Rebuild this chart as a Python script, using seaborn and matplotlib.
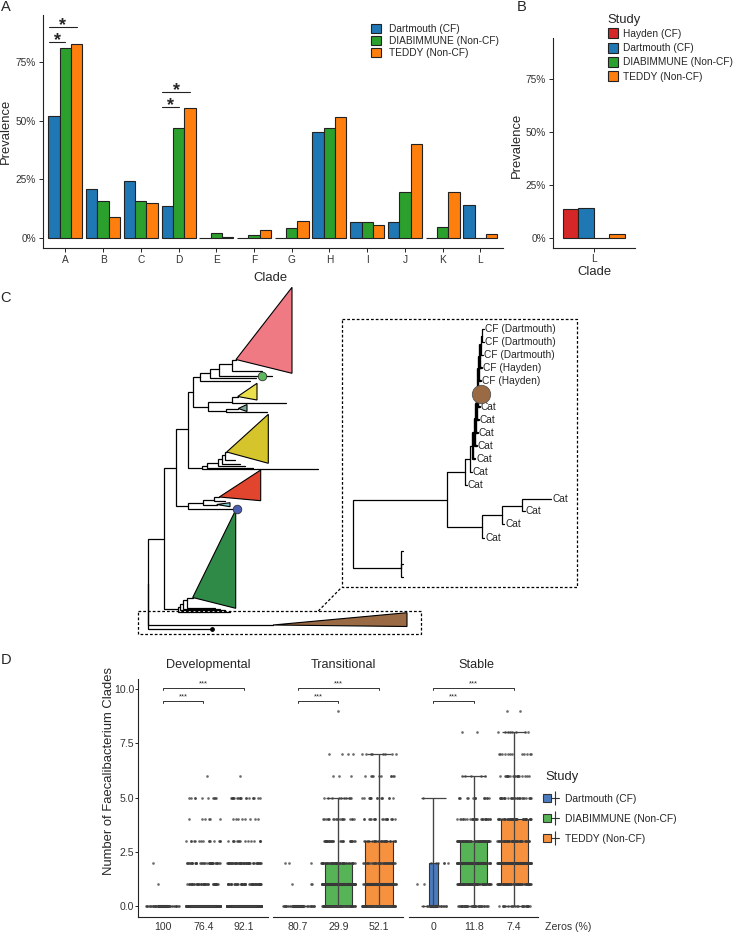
import numpy as np
import pandas as pd
import matplotlib
matplotlib.use("Agg")
import matplotlib.pyplot as plt
import seaborn as sns
from matplotlib import cbook
from matplotlib.patches import Patch
from matplotlib.lines import Line2D
from matplotlib.legend_handler import HandlerTuple

W, H = 735, 933

# ---------------- data: panel A ----------------
clades = list("ABCDEFGHIJKL")
a_studies = ["Dartmouth (CF)", "DIABIMMUNE (Non-CF)", "TEDDY (Non-CF)"]
dartmouth_prev = [51.8, 20.8, 24.2, 13.7, 0, 0, 0, 45.0, 6.8, 6.9, 0, 14.0]
diabimmune_prev = [80.7, 16.0, 15.7, 46.7, 2.1, 1.3, 4.5, 46.8, 6.8, 19.5, 4.7, 0]
teddy_prev = [82.6, 8.9, 15.0, 55.2, 0.6, 3.5, 7.5, 51.6, 5.8, 39.9, 19.5, 1.8]
# (clade index, compared study index, bracket height)
sig_a = [(0, 1, 83.2), (0, 2, 89.7), (3, 1, 55.6), (3, 2, 62.1)]

# ---------------- data: panel B ----------------
b_studies = ["Hayden (CF)", "Dartmouth (CF)", "DIABIMMUNE (Non-CF)", "TEDDY (Non-CF)"]
b_prev = [13.6, 14.1, 0, 1.7]

# ---------------- data: panel C (tree drawn in pixel-like units) ----------------
# elbow branches: parent x, parent y, child x, child y
main_elbows = [
    (148.3, 584, 163.7, 539), (148.3, 584, 273, 625), (148.3, 584, 211.7, 629),
    (163.7, 539, 175.7, 468.3), (163.7, 539, 177.7, 609.3),
    (175.7, 468.3, 187.7, 429), (175.7, 468.3, 187.7, 505.7),
    (187.7, 429, 193.3, 391.7), (187.7, 429, 201.7, 468.3),
    (193.3, 391.7, 200, 377), (193.3, 391.7, 208.3, 406.7),
    (200, 377, 250, 381), (200, 377, 210, 373),
    (210, 373, 256, 378), (210, 373, 219, 369),
    (219, 369, 272, 376), (219, 369, 231.7, 364),
    (231.7, 364, 236, 359.5), (231.7, 364, 262, 371),
    (208.3, 406.7, 231.7, 401.7), (208.3, 406.7, 226, 411),
    (231.7, 401.7, 285.7, 402.5), (231.7, 401.7, 237.7, 396.5),
    (226, 411, 266.7, 411.7), (226, 411, 238.3, 408.5),
    (201.7, 468.3, 318.3, 469.3), (201.7, 468.3, 206.7, 466),
    (206.7, 466, 253, 468), (206.7, 466, 218.3, 463),
    (218.3, 463, 245, 466), (218.3, 463, 221.7, 459),
    (221.7, 459, 240, 464), (221.7, 459, 225, 455),
    (225, 455, 226.7, 452), (225, 455, 235, 460),
    (187.7, 505.7, 203.3, 502.7), (187.7, 505.7, 233.3, 508.8),
    (203.3, 502.7, 214, 499.5), (203.3, 502.7, 216.7, 504.5),
    (214, 499.5, 219.3, 497), (214, 499.5, 225, 501),
    (177.7, 609.3, 230, 611.7), (177.7, 609.3, 180, 606.5),
    (180, 606.5, 225, 610), (180, 606.5, 182.7, 603.5),
    (182.7, 603.5, 220, 609), (182.7, 603.5, 186.7, 600),
    (186.7, 600, 192.7, 597.5), (186.7, 600, 215, 608),
]
# collapsed clades: apex, top corner, bottom corner
clade_triangles = [
    [(236, 359.5), (292, 287.3), (292, 373.3)],
    [(237.7, 396.5), (257, 383.3), (257, 400)],
    [(238.3, 408.5), (247, 404.5), (247, 411.5)],
    [(226.7, 452), (268.3, 414.3), (268.3, 463.3)],
    [(219.3, 497), (260.7, 470), (260.7, 500.7)],
    [(216.7, 504.5), (230, 502.7), (230, 506.7)],
    [(192.7, 597.5), (235.7, 510), (235.7, 608.3)],
    [(273, 625), (407, 612.7), (407, 626.5)],
]
clade_colors = ["#f07a84", "#ebe04c", "#7fa79a", "#d6c42c", "#e2452d", "#7ccaca", "#2f8a48", "#9a6a44"]
node_dots = [(261.7, 376, "#5cb85c"), (236.7, 509, "#4a5fb0")]

inset_elbows = [
    (353.3, 534, 447.3, 500), (353.3, 534, 401, 567.7),
    (401, 567.7, 403, 551), (401, 567.7, 403, 564), (401, 567.7, 403, 577.3),
    (447.3, 500, 481.7, 526.7),
    (481.7, 526.7, 484, 537.7), (481.7, 526.7, 501.7, 515),
    (501.7, 515, 504, 524.3), (501.7, 515, 522.3, 505.7),
    (522.3, 505.7, 524.5, 511), (522.3, 505.7, 550.7, 498.7),
]
lower_tip_labels = [(486, 537.7), (506, 524.3), (526, 511), (552.5, 498.7)]
spine_tips_y = [485, 472.3, 459.3, 446.3, 433.3, 420.3, 407.3, 381, 368.3, 355, 342.3, 329]
spine_tips_lab = ["Cat"] * 7 + ["CF (Hayden)"] * 2 + ["CF (Dartmouth)"] * 3
spine_x = [465, 469.7, 473.3, 474.5, 475.5, 476.5, 477.5, 478.5, 479.7, 481, 481.7]

# ---------------- data: panel D ----------------
phases = ["Developmental", "Transitional", "Stable"]
d_studies = ["Dartmouth (CF)", "DIABIMMUNE (Non-CF)", "TEDDY (Non-CF)"]
zeros_pct = [["100", "76.4", "92.1"], ["80.7", "29.9", "52.1"], ["0", "11.8", "7.4"]]
n_clades = np.arange(10)
# number of samples having 0..9 clades
dev_dartmouth = [38, 1, 1, 0, 0, 0, 0, 0, 0, 0]
dev_diabimmune = [420, 45, 40, 15, 6, 10, 1, 0, 0, 0]
dev_teddy = [640, 55, 55, 15, 8, 20, 1, 0, 0, 0]
trans_dartmouth = [26, 3, 3, 0, 0, 0, 0, 0, 0, 0]
trans_diabimmune = [90, 80, 60, 30, 20, 10, 3, 4, 0, 1]
trans_teddy = [110, 50, 40, 30, 20, 15, 10, 8, 0, 0]
stable_dartmouth = [12, 2, 6, 0, 0, 1, 0, 0, 0, 0]
stable_diabimmune = [40, 80, 100, 70, 30, 15, 5, 0, 2, 0]
stable_teddy = [25, 70, 80, 50, 45, 30, 20, 12, 8, 2]
d_counts = [
    [dev_dartmouth, dev_diabimmune, dev_teddy],
    [trans_dartmouth, trans_diabimmune, trans_teddy],
    [stable_dartmouth, stable_diabimmune, stable_teddy],
]

# ---------------- figure ----------------
sns.set_theme(style="ticks")
plt.rcParams["font.family"] = ["Liberation Sans", "DejaVu Sans"]
plt.rcParams["axes.linewidth"] = 0.8
plt.rcParams["axes.edgecolor"] = "#222222"
np.random.seed(3)

fig = plt.figure(figsize=(W / 100, H / 100), dpi=100)


def add_ax(x0, y0, x1, y1):
    return fig.add_axes([x0 / W, 1 - y1 / H, (x1 - x0) / W, (y1 - y0) / H])


def ftext(x, y, s, **kw):
    kw.setdefault("va", "center")
    return fig.text(x / W, 1 - y / H, s, **kw)


tab_blue, tab_green, tab_orange, tab_red = "#1f77b4", "#2ca02c", "#ff7f0e", "#d62728"
edge = "#222222"

# ---- A ----
df_a = pd.DataFrame({
    "Clade": clades * 3,
    "Study": np.repeat(a_studies, len(clades)),
    "Prevalence": dartmouth_prev + diabimmune_prev + teddy_prev,
})
axA = add_ax(42.7, 15, 503, 248.3)
sns.barplot(data=df_a, x="Clade", y="Prevalence", hue="Study", hue_order=a_studies,
            palette=[tab_blue, tab_green, tab_orange], width=0.9, saturation=1,
            edgecolor=edge, linewidth=0.8, errorbar=None, legend=False, ax=axA)
axA.set_xlim(-0.6, 11.6)
axA.set_ylim(-4.25, 94.8)
axA.set_yticks([0, 25, 50, 75])
axA.set_yticklabels(["0%", "25%", "50%", "75%"])
axA.set_xlabel("")
axA.set_ylabel("")
sns.despine(ax=axA)
axA.tick_params(labelsize=7.3, labelcolor="#333333", length=3, width=0.7, pad=1.8)
for ci, si, yb in sig_a:
    x1 = ci + (si - 1) * 0.3
    axA.plot([ci - 0.43, x1], [yb, yb], color=edge, lw=0.8)
    axA.text((ci - 0.43 + x1) / 2, yb - 1.3, "*", ha="center", va="baseline", fontsize=13,
             fontweight="bold", clip_on=False)

fig.legend([Patch(facecolor=c, edgecolor=edge, lw=0.8) for c in [tab_blue, tab_green, tab_orange]],
           a_studies, loc="upper left", bbox_to_anchor=(371 / W, 1 - 24 / H), frameon=False,
           fontsize=7.3, handlelength=1.0, handleheight=1.0, handletextpad=0.8,
           labelspacing=0.2, borderpad=0, borderaxespad=0)

# ---- B ----
df_b = pd.DataFrame({"Clade": ["L"] * 4, "Study": b_studies, "Prevalence": b_prev})
axB = add_ax(552.7, 38.3, 635, 247.7)
sns.barplot(data=df_b, x="Clade", y="Prevalence", hue="Study", hue_order=b_studies,
            palette=[tab_red, tab_blue, tab_green, tab_orange], width=0.9, saturation=1,
            edgecolor=edge, linewidth=0.8, errorbar=None, legend=False, ax=axB)
axB.set_xlim(-0.6, 0.6)
axB.set_ylim(-4.73, 94.4)
axB.set_yticks([0, 25, 50, 75])
axB.set_yticklabels(["0%", "25%", "50%", "75%"])
axB.set_xlabel("")
axB.set_ylabel("")
sns.despine(ax=axB)
axB.tick_params(labelsize=7.3, labelcolor="#333333", length=3, width=0.7, pad=1.8)

fig.legend([Patch(facecolor=c, edgecolor=edge, lw=0.8) for c in [tab_red, tab_blue, tab_green, tab_orange]],
           b_studies, loc="upper left", bbox_to_anchor=(607.5 / W, 1 - 28.3 / H), frameon=False,
           fontsize=7.3, handlelength=1.05, handleheight=1.15, handletextpad=0.45,
           labelspacing=0.38, borderpad=0, borderaxespad=0)
ftext(607.5, 20.5, "Study", ha="left", fontsize=9.4)

ftext(5.5, 131, "Prevalence", rotation=90, ha="center", fontsize=9.4)
ftext(270.7, 278, "Clade", ha="center", fontsize=9.4)
ftext(516.7, 145, "Prevalence", rotation=90, ha="center", fontsize=9.4)
ftext(594.3, 272.3, "Clade", ha="center", fontsize=9.4)

# ---- C ----
axC = add_ax(130, 280, 590, 640)
axC.set_xlim(130, 590)
axC.set_ylim(640, 280)
axC.axis("off")

for xp, yp, xc, yc in main_elbows + inset_elbows:
    axC.plot([xp, xp, xc], [yp, yc, yc], color="black", lw=0.9, solid_joinstyle="miter")
for tri, col in zip(clade_triangles, clade_colors):
    xs, ys = zip(*tri)
    axC.fill(xs, ys, facecolor=col, edgecolor="black", lw=0.8, zorder=3)
for x, y, col in node_dots:
    axC.scatter([x], [y], s=38, color=col, edgecolor="#333333", lw=0.6, zorder=4)
axC.scatter([211.7], [629], s=6, color="black", zorder=4)

# caterpillar part of the inset tree
node_y = [0.0] * len(spine_x)
node_y[-1] = (spine_tips_y[-2] + spine_tips_y[-1]) / 2
for k in range(len(spine_x) - 2, -1, -1):
    node_y[k] = (spine_tips_y[k] + node_y[k + 1]) / 2
axC.plot([447.3, 447.3, spine_x[0]], [500, node_y[0], node_y[0]], color="black", lw=0.9)
for k, sx in enumerate(spine_x):
    lw = 1.7 if 2 <= k <= 8 else 0.9
    axC.plot([sx, sx, sx + 2], [node_y[k], spine_tips_y[k], spine_tips_y[k]], color="black", lw=lw)
    if k + 1 < len(spine_x):
        axC.plot([sx, sx, spine_x[k + 1]], [node_y[k], node_y[k + 1], node_y[k + 1]], color="black", lw=lw)
    else:
        axC.plot([sx, sx, sx + 2], [node_y[k], spine_tips_y[k + 1], spine_tips_y[k + 1]], color="black", lw=0.9)
for k, (ty, lab) in enumerate(zip(spine_tips_y, spine_tips_lab)):
    sx = spine_x[min(k, len(spine_x) - 1)]
    axC.text(sx + 3, ty, lab, fontsize=7.3, va="center", ha="left")
for x, y in lower_tip_labels:
    axC.text(x, y, "Cat", fontsize=7.3, va="center", ha="left")
axC.scatter([480.7], [394], s=175, color="#9a6a44", edgecolor="#555555", lw=0.6, zorder=4)

dash = (0, (2.2, 1.6))
axC.plot([341.7, 576.7, 576.7, 341.7, 341.7], [319.3, 319.3, 587.3, 587.3, 319.3],
         color="black", lw=0.9, ls=dash)
axC.plot([137.7, 420.7, 420.7, 137.7, 137.7], [611, 611, 634, 634, 611],
         color="black", lw=0.9, ls=dash)
axC.plot([318.3, 341.7], [611, 587.3], color="black", lw=0.9, ls=dash)

# ---- D ----
rows = []
for i, ph in enumerate(phases):
    for j, st in enumerate(d_studies):
        vals = np.repeat(n_clades, d_counts[i][j])
        rows.append(pd.DataFrame({"Phase": ph, "Study": st, "Clades": vals}))
df_d = pd.concat(rows, ignore_index=True)

box_colors = ["#4b7bbf", "#56b356", "#f5913f"]
box_widths = [[0.28, 0.67, 0.67], [0.3, 0.67, 0.67], [0.22, 0.67, 0.67]]
facet_px = [(138.3, 268.3), (273.3, 403.3), (409.3, 538.3)]
title_x = [208.7, 343, 476.5]
brackets = [(0, 1, 9.46), (0, 2, 10.07)]

for i, ph in enumerate(phases):
    ax = add_ax(facet_px[i][0], 679.3, facet_px[i][1], 916.7)
    ax.patch.set_alpha(0)
    sub = df_d[df_d.Phase == ph]
    for j, st in enumerate(d_studies):
        s = sub[sub.Study == st]
        sns.boxplot(data=s, x="Study", y="Clades", order=d_studies, color=box_colors[j],
                    width=box_widths[i][j], showfliers=False, showcaps=False, whis=1.5,
                    linecolor="#333333", linewidth=0.8, saturation=1,
                    medianprops={"linewidth": 2.2, "color": "#333333"}, ax=ax)
    sns.stripplot(data=sub, x="Study", y="Clades", order=d_studies, color="#3a3a3a",
                  size=1.9, jitter=0.42, alpha=0.75, linewidth=0, ax=ax)
    for j, st in enumerate(d_studies):
        vals = sub.loc[sub.Study == st, "Clades"].to_numpy()
        stt = cbook.boxplot_stats(vals, whis=1.5)[0]
        ax.vlines(j, stt["whislo"], stt["whishi"], color="#444444", lw=0.9, zorder=3)
        ax.hlines([stt["whislo"], stt["whishi"]], j - 0.3, j + 0.3, color="#444444", lw=0.9, zorder=3)
    for g1, g2, yb in brackets:
        ax.plot([g1, g1, g2, g2], [yb - 0.1, yb, yb, yb - 0.1], color="#333333", lw=0.7, clip_on=False)
        ax.text((g1 + g2) / 2, yb + 0.02, "***", ha="center", va="bottom", fontsize=5.5)
    ax.set_xlim(-0.6, 2.6)
    ax.set_ylim(-0.49, 10.45)
    ax.set_xticks([0, 1, 2])
    ax.set_xticklabels(zeros_pct[i])
    ax.set_xlabel("")
    ax.set_ylabel("")
    ax.tick_params(axis="x", length=0, pad=3.5, labelsize=7.6, labelcolor="#333333")
    ax.tick_params(axis="y", length=2, width=0.7, pad=1, labelsize=7.6, labelcolor="#333333")
    ax.set_yticks([0, 2.5, 5, 7.5, 10])
    if i == 0:
        sns.despine(ax=ax)
    else:
        sns.despine(ax=ax, left=True)
        ax.set_yticks([])
    ftext(title_x[i], 665, ph, ha="center", fontsize=9.1)

d_handles = [(Patch(facecolor=c, edgecolor="#333333", lw=0.8),
              Line2D([], [], color="#333333", lw=0.8, marker="|", markersize=9.5, mew=0.8))
             for c in box_colors]
fig.legend(d_handles, d_studies, handler_map={tuple: HandlerTuple(ndivide=None)},
           loc="upper left", bbox_to_anchor=(543 / W, 1 - 794 / H), frameon=False,
           fontsize=7.4, handlelength=1.55, handleheight=0.8, handletextpad=0.6,
           labelspacing=0.95, borderpad=0, borderaxespad=0)
ftext(545, 777, "Study", ha="left", fontsize=9.4)

ftext(109, 771, "Number of Faecalibacterium Clades", rotation=90, ha="center", fontsize=9.4)
ftext(545, 926.7, "Zeros (%)", ha="left", fontsize=7.6, color="#333333")

for lab, (x, y) in zip("ABCD", [(0.5, 7), (516.5, 7), (0.5, 298), (0.5, 660)]):
    ftext(x, y, lab, ha="left", fontsize=10.5)

fig.savefig("out.png", dpi=100)
